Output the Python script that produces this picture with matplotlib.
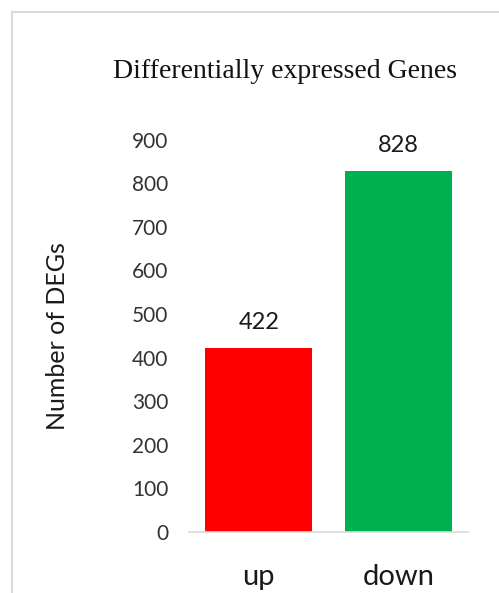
import matplotlib.pyplot as plt
from matplotlib.lines import Line2D

# DEG counts
categorias = ["up", "down"]
valores = [422, 828]
cores = ["#ff0000", "#00b050"]
marcas_y = [0, 100, 200, 300, 400, 500, 600, 700, 800, 900]

fig = plt.figure(figsize=(4.99, 5.93), dpi=100)
ax = fig.add_axes([189 / 499, 1 - 532 / 593, (468 - 189) / 499, (532 - 139.6) / 593])

x = range(len(categorias))
barras = ax.bar(x, valores, width=0.77, color=cores)

for b, v in zip(barras, valores):
    ax.text(b.get_x() + b.get_width() / 2, v + 58, str(v), ha="center", va="center",
            fontsize=17, family="Lato", color="#1a1a1a")

ax.set_xlim(-0.5, 1.5)
ax.set_ylim(0, 900)
ax.set_yticks(marcas_y)
ax.set_yticklabels([str(m) for m in marcas_y], family="Lato", fontsize=15, color="#333333")
ax.set_xticks(list(x))
ax.set_xticklabels(categorias, family="Lato", fontsize=21, color="#1a1a1a")
ax.tick_params(axis="y", length=0, pad=15)
ax.tick_params(axis="x", length=0, pad=23)

for lado in ["top", "right", "left"]:
    ax.spines[lado].set_visible(False)
ax.spines["bottom"].set_color("#d9d9d9")
ax.spines["bottom"].set_linewidth(1.2)

ax.set_ylabel("Number of DEGs", family="Lato", fontsize=18, color="#1a1a1a")
ax.yaxis.set_label_coords((69 - 189) / (468 - 189), 0.5)

fig.text(285 / 499, 1 - 72 / 593, "Differentially expressed Genes", ha="center", va="center",
         family="Liberation Serif", fontsize=20, color="#111111")

# moldura cinza do gráfico
fig.add_artist(Line2D([11.5 / 499, 11.5 / 499], [0, 1 - 12 / 593], color="#d9d9d9", lw=1.5))
fig.add_artist(Line2D([11.5 / 499, 1], [1 - 12 / 593, 1 - 12 / 593], color="#d9d9d9", lw=1.5))

plt.savefig("out.png", dpi=100)
